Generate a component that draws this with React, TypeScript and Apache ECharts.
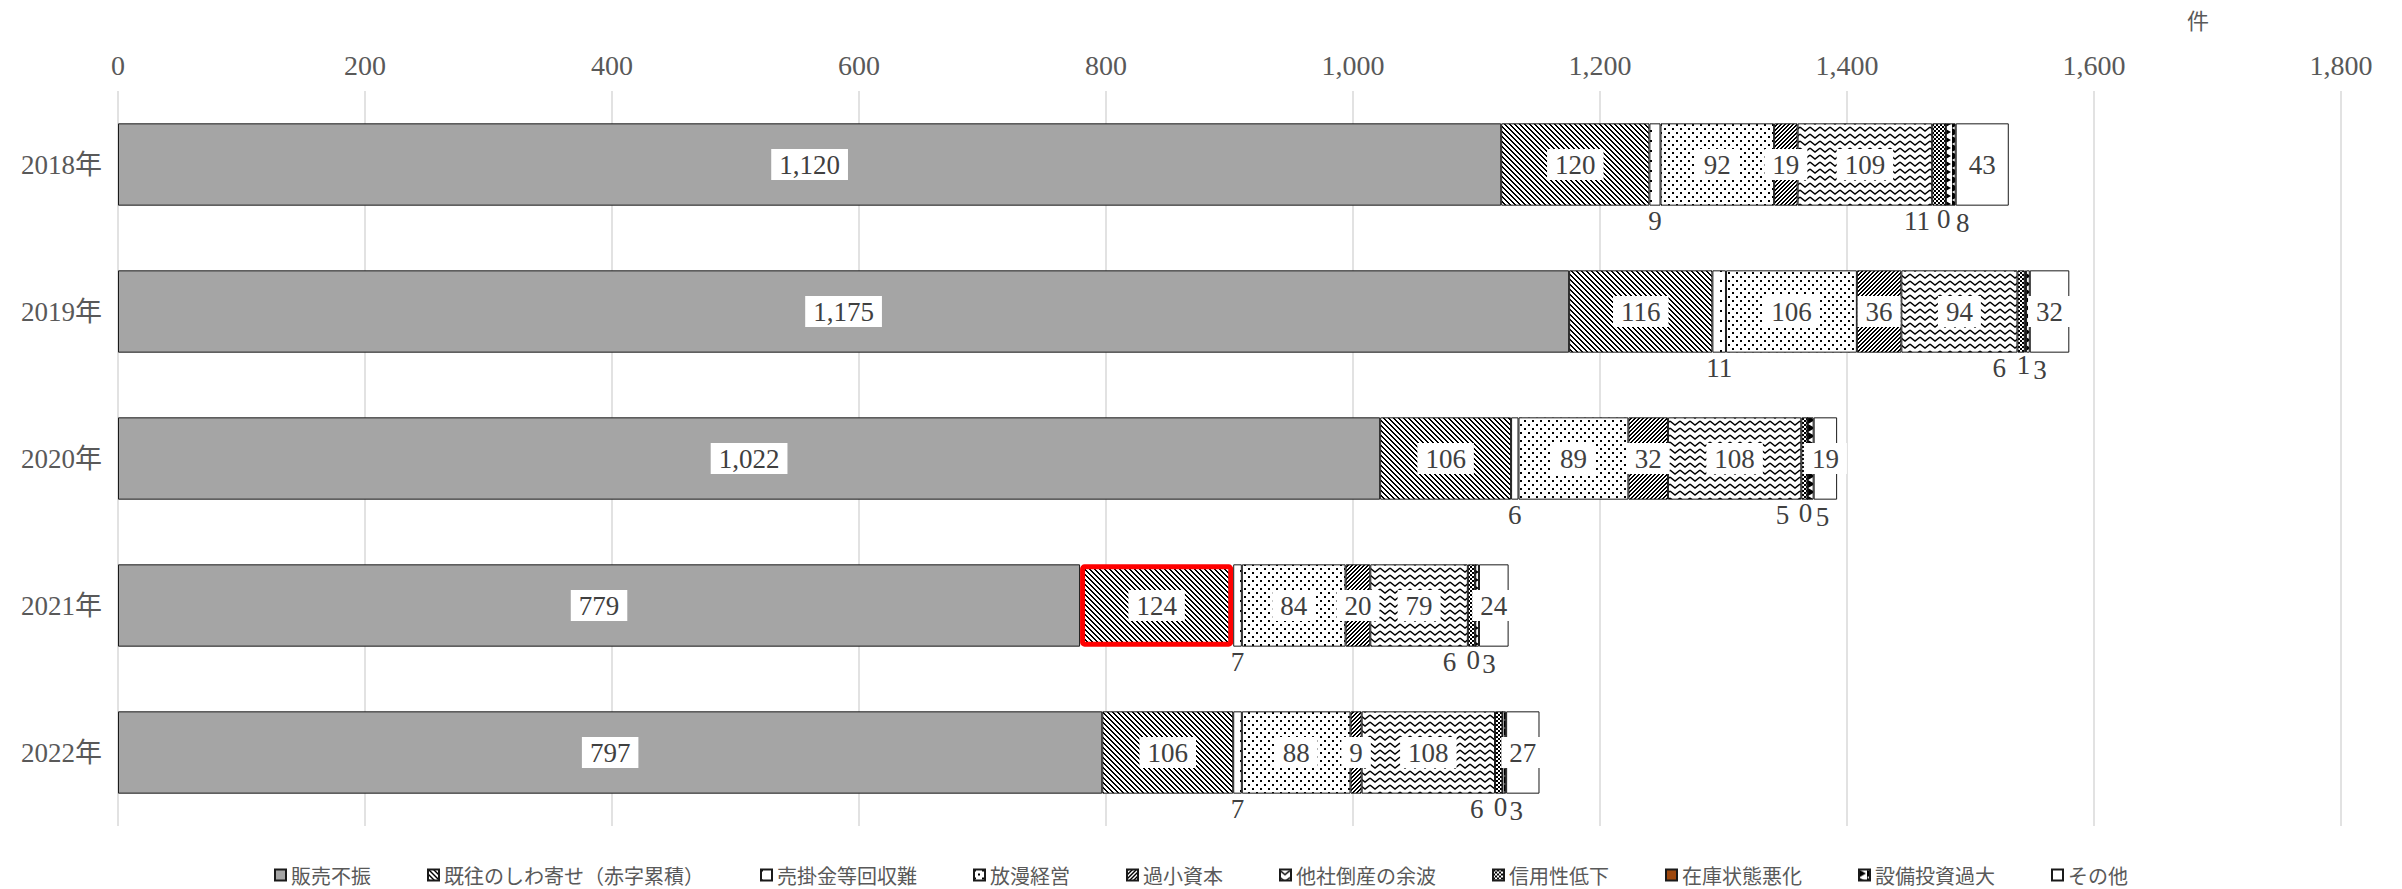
import React, { useEffect, useRef } from "react";
import * as echarts from "echarts";

// 倒産原因別件数（年別）
const years = ["2018年", "2019年", "2020年", "2021年", "2022年"];
const causes = [
  "販売不振",
  "既往のしわ寄せ（赤字累積）",
  "売掛金等回収難",
  "放漫経営",
  "過小資本",
  "他社倒産の余波",
  "信用性低下",
  "在庫状態悪化",
  "設備投資過大",
  "その他",
];
const hanbaiFushin = [1120, 1175, 1022, 779, 797];
const kioShiwayose = [120, 116, 106, 124, 106];
const urikakekin = [9, 11, 6, 7, 7];
const homanKeiei = [92, 106, 89, 84, 88];
const kashoShihon = [19, 36, 32, 20, 9];
const tashaTosan = [109, 94, 108, 79, 108];
const shinyoTeika = [11, 6, 5, 6, 6];
const zaikoAkka = [0, 1, 0, 0, 0];
const setsubiKado = [8, 3, 5, 3, 3];
const sonota = [43, 32, 19, 24, 27];
const seriesValues = [
  hanbaiFushin,
  kioShiwayose,
  urikakekin,
  homanKeiei,
  kashoShihon,
  tashaTosan,
  shinyoTeika,
  zaikoAkka,
  setsubiKado,
  sonota,
];
const xTicks = [0, 200, 400, 600, 800, 1000, 1200, 1400, 1600, 1800];
const highlightYear = "2021年";
const highlightCause = "既往のしわ寄せ（赤字累積）";

const SERIF = "'Liberation Serif', 'Noto Sans CJK JP', serif";
const SANS = "'Noto Sans CJK JP', 'Noto Sans', sans-serif";

type Painter = (ctx: CanvasRenderingContext2D, w: number, h: number) => void;

function tile(w: number, h: number, paint: Painter) {
  const c = document.createElement("canvas");
  c.width = w;
  c.height = h;
  const ctx = c.getContext("2d") as CanvasRenderingContext2D;
  ctx.fillStyle = "#ffffff";
  ctx.fillRect(0, 0, w, h);
  ctx.fillStyle = "#000000";
  ctx.strokeStyle = "#000000";
  paint(ctx, w, h);
  return { image: c.toDataURL(), repeat: "repeat", imageWidth: w, imageHeight: h };
}

function diagonal(period: number, thick: number, down: boolean) {
  return tile(period, period, (ctx) => {
    for (let y = 0; y < period; y++) {
      for (let x = 0; x < period; x++) {
        const k = down ? x - y : x + y;
        if (((k % period) + period) % period < thick) ctx.fillRect(x, y, 1, 1);
      }
    }
  });
}

function buildFills() {
  const sparseDots = tile(10, 10, (ctx) => ctx.fillRect(0, 0, 2, 2));
  const dots = tile(8, 8, (ctx) => {
    ctx.fillRect(0, 0, 2, 2);
    ctx.fillRect(4, 4, 2, 2);
  });
  const zigzag = tile(10, 7, (ctx) => {
    ctx.lineWidth = 1.4;
    ctx.beginPath();
    ctx.moveTo(0, 1);
    ctx.lineTo(5, 5);
    ctx.lineTo(10, 1);
    ctx.stroke();
  });
  const checker = tile(4, 4, (ctx) => {
    ctx.fillRect(0, 0, 2, 2);
    ctx.fillRect(2, 2, 2, 2);
  });
  const triangles = tile(8, 8, (ctx) => {
    ctx.beginPath();
    ctx.moveTo(0, 0);
    ctx.lineTo(7, 4);
    ctx.lineTo(0, 8);
    ctx.closePath();
    ctx.fill();
  });
  return [
    "#A5A5A5",
    diagonal(5, 2, true),
    sparseDots,
    dots,
    diagonal(4, 2, false),
    zigzag,
    checker,
    "#9E480E",
    triangles,
    "#FFFFFF",
  ];
}

const fmt = (v: number) => v.toLocaleString("en-US");

// Causes whose values are labelled under the bar, with a sideways nudge
const belowOffsets: Record<string, number[]> = {
  売掛金等回収難: [0, 0],
  信用性低下: [-22, 0],
  在庫状態悪化: [-2, -3],
  設備投資過大: [12, 2],
};

export default function App() {
  const ref = useRef<HTMLDivElement>(null);

  useEffect(() => {
    if (!ref.current) return;
    document.body.style.margin = "0";
    const chart = echarts.init(ref.current, null, { renderer: "svg" });
    const fills = buildFills();

    const series = causes.map((name, si) => {
      const below = belowOffsets[name];
      const values = seriesValues[si];
      const data = values.map((v, yi) =>
        name === highlightCause && years[yi] === highlightYear
          ? {
              value: v,
              itemStyle: { borderColor: "#FF0000", borderWidth: 5, borderRadius: 2 },
            }
          : v
      );
      return {
        name,
        type: "bar",
        stack: "total",
        barCategoryGap: "44%",
        data,
        itemStyle: {
          color: fills[si],
          borderColor: "#1a1a1a",
          borderWidth: 1,
        },
        emphasis: { disabled: true },
        label: below
          ? {
              show: true,
              position: "bottom",
              distance: 2,
              offset: below,
              formatter: (p: any) => fmt(p.value),
              color: "#404040",
              fontFamily: SERIF,
              fontSize: 27,
            }
          : {
              show: true,
              position: "inside",
              formatter: (p: any) => fmt(p.value),
              color: "#404040",
              fontFamily: SERIF,
              fontSize: 27,
              backgroundColor: "#FFFFFF",
              padding: [3, 8, 1, 8],
            },
      };
    });

    chart.setOption({
      animation: false,
      backgroundColor: "#FFFFFF",
      grid: { left: 118, right: 61, top: 91, bottom: 63, containLabel: false },
      xAxis: {
        type: "value",
        position: "top",
        min: xTicks[0],
        max: xTicks[xTicks.length - 1],
        interval: xTicks[1] - xTicks[0],
        axisLine: { show: false },
        axisTick: { show: false },
        splitLine: { show: true, lineStyle: { color: "#D9D9D9", width: 1.5 } },
        axisLabel: {
          formatter: (v: number) => fmt(v),
          color: "#595959",
          fontFamily: SERIF,
          fontSize: 28,
          margin: 12,
        },
      },
      yAxis: {
        type: "category",
        inverse: true,
        data: years,
        axisLine: { show: false },
        axisTick: { show: false },
        axisLabel: {
          color: "#595959",
          fontFamily: SERIF,
          fontSize: 27,
          margin: 16,
        },
      },
      legend: {
        top: 860,
        left: "center",
        icon: "rect",
        itemWidth: 11,
        itemHeight: 11,
        itemGap: 56,
        textStyle: { color: "#595959", fontFamily: SANS, fontSize: 20 },
        data: causes,
      },
      graphic: [
        {
          type: "text",
          left: 2187,
          top: 8,
          style: { text: "件", fill: "#595959", font: `22px ${SANS}` },
        },
      ],
      series,
    });

    return () => chart.dispose();
  }, []);

  return <div ref={ref} style={{ width: 2402, height: 889 }} />;
}
